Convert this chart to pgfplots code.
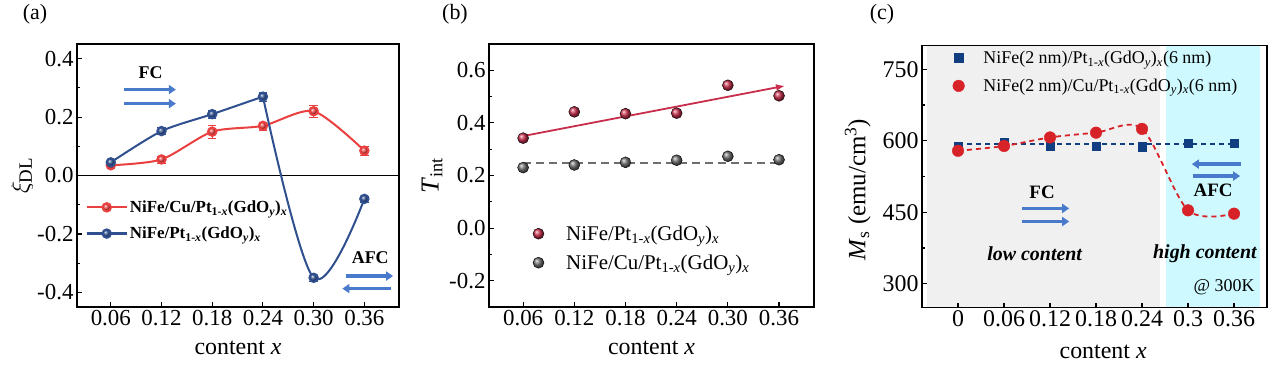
\documentclass[border=0pt]{standalone}
\usepackage{fontspec}
\setmainfont{Liberation Serif}
\usepackage{pgfplots}
\pgfplotsset{compat=1.18}
\usetikzlibrary{arrows.meta}

\definecolor{ared}{RGB}{235,64,64}
\definecolor{ablue}{RGB}{47,79,143}
\definecolor{bred}{RGB}{200,45,75}
\definecolor{bgray}{RGB}{110,110,110}
\definecolor{cnavy}{RGB}{16,62,128}
\definecolor{cred}{RGB}{215,35,40}
\definecolor{arrblue}{RGB}{74,122,204}
\definecolor{bggray}{RGB}{240,240,240}
\definecolor{bgcyan}{RGB}{206,250,255}

\newcommand{\fs}[1]{\fontsize{#1}{#1}\selectfont}
\newcommand{\sub}[1]{\textsubscript{#1}}

\tikzset{barrow/.style={line width=3.6bp, draw=arrblue, -{Triangle[length=7bp,width=9bp]}}}

\pgfplotsset{
  base/.style={
    scale only axis,
    axis line style={line width=1.8bp},
    tick style={line width=1.1bp, black},
    tick align=inside, tick pos=left,
    major tick length=5bp, minor tick length=3bp,
    minor y tick num=1,
    tick label style={font=\fs{23}},
    label style={font=\fs{24}},
    legend cell align=left,
  },
}

\begin{document}
\begin{tikzpicture}
\useasboundingbox (0,0) rectangle (1282bp,-381bp);
\node[font=\fs{22}] at (35bp,-14bp) {(a)};
\node[font=\fs{22}] at (455bp,-14bp) {(b)};
\node[font=\fs{22}] at (882bp,-14bp) {(c)};

% ---------------- (a)
\begin{axis}[base, at={(77bp,-307bp)}, anchor=south west,
  width=322bp, height=263bp,
  xmin=0.02, xmax=0.401, ymin=-0.45, ymax=0.45,
  xtick={0.06,0.12,0.18,0.24,0.30,0.36},
  xticklabels={0.06,0.12,0.18,0.24,0.30,0.36},
  ytick={-0.4,-0.2,0,0.2,0.4},
  yticklabels={-0.4,-0.2,0.0,0.2,0.4},
  xlabel={content \textit{x}}, ylabel={\fs{27}$\xi_{\mathrm{DL}}$},
  xlabel style={at={(rel axis cs:0.5,-0.156)}, anchor=center},
  ylabel style={at={(rel axis cs:-0.171,0.5)}, anchor=center},
  legend style={at={(rel axis cs:0.02,0.42)}, anchor=north west, draw=none, fill=none,
    font=\fs{17}\bfseries, row sep=9bp, inner sep=2bp},
]
\addplot[black, line width=1.3bp, forget plot] coordinates {(0.02,0) (0.401,0)};
\addplot[ared, line width=2bp, smooth, tension=0.45, mark=ball, mark size=4.2bp, mark options={ball color=ared},
  legend image code/.code={\draw[draw=ared, line width=2.2bp] (0bp,0bp) -- (40bp,0bp);
     \draw[mark=ball, mark size=4.2bp, mark options={ball color=ared}] plot coordinates {(20bp,0bp)};},
  error bars/.cd, y dir=both, y explicit, error bar style={line width=1.2bp}]
  coordinates {(0.06,0.035) +- (0,0.010) (0.12,0.055) +- (0,0.012) (0.18,0.150) +- (0,0.022)
               (0.24,0.170) +- (0,0.014) (0.30,0.220) +- (0,0.020) (0.36,0.085) +- (0,0.014)};
\addlegendentry{NiFe/Cu/Pt\sub{1-\textit{x}}(GdO\sub{\textit{y}})\sub{\textit{x}}}
\addplot[ablue, line width=2bp, smooth, tension=0.45, forget plot]
  coordinates {(0.06,0.045) (0.12,0.152) (0.18,0.210) (0.24,0.270)};
\addplot[ablue, line width=2bp, smooth, tension=0.55, forget plot]
  coordinates {(0.24,0.270) (0.30,-0.350) (0.36,-0.080)};
\addplot[ablue, line width=2bp, only marks, mark=ball, mark size=4.2bp, mark options={ball color=ablue},
  legend image code/.code={\draw[draw=ablue, line width=2.2bp] (0bp,0bp) -- (40bp,0bp);
     \draw[mark=ball, mark size=4.2bp, mark options={ball color=ablue}] plot coordinates {(20bp,0bp)};},
  error bars/.cd, y dir=both, y explicit, error bar style={line width=1.2bp}]
  coordinates {(0.06,0.045) +- (0,0.012) (0.12,0.152) +- (0,0.012) (0.18,0.210) +- (0,0.014)
               (0.24,0.270) +- (0,0.016) (0.30,-0.350) +- (0,0.010) (0.36,-0.080) +- (0,0.010)};
\addlegendentry{NiFe/Pt\sub{1-\textit{x}}(GdO\sub{\textit{y}})\sub{\textit{x}}}
\node[font=\fs{18}\bfseries] at (axis cs:0.107,0.352) {FC};
\draw[barrow] (axis cs:0.0754,0.294) -- (axis cs:0.137,0.294);
\draw[barrow] (axis cs:0.0754,0.246) -- (axis cs:0.137,0.246);
\node[font=\fs{18}\bfseries] at (axis cs:0.367,-0.280) {AFC};
\draw[barrow] (axis cs:0.338,-0.344) -- (axis cs:0.394,-0.344);
\draw[barrow] (axis cs:0.391,-0.387) -- (axis cs:0.334,-0.387);
\end{axis}

% ---------------- (b)
\begin{axis}[base, at={(489bp,-307bp)}, anchor=south west,
  width=325bp, height=263bp,
  xmin=0.02, xmax=0.401, ymin=-0.3, ymax=0.7,
  xtick={0.06,0.12,0.18,0.24,0.30,0.36},
  xticklabels={0.06,0.12,0.18,0.24,0.30,0.36},
  ytick={-0.2,0,0.2,0.4,0.6},
  yticklabels={-0.2,0.0,0.2,0.4,0.6},
  xlabel={content \textit{x}}, ylabel={\fs{26}\textit{T}\sub{int}},
  xlabel style={at={(rel axis cs:0.5,-0.156)}, anchor=center},
  ylabel style={at={(rel axis cs:-0.175,0.5)}, anchor=center},
  legend style={at={(rel axis cs:0.128,0.325)}, anchor=north west, draw=none, fill=none,
    font=\fs{21}, row sep=9bp, inner sep=2bp,
    /tikz/every odd column/.append style={column sep=20bp}},
  legend image code/.code={\draw[#1] plot coordinates {(0bp,0bp)};},
]
\addplot[bred, line width=1.8bp, -{Latex[length=9bp,width=7bp]}, forget plot] coordinates {(0.06,0.350) (0.367,0.541)};
\addplot[bgray, line width=1.8bp, dash pattern=on 8bp off 5bp, forget plot] coordinates {(0.06,0.249) (0.36,0.249)};
\addplot[only marks, mark=ball, mark size=5.5bp, mark options={ball color=bred}]
  coordinates {(0.06,0.342) (0.12,0.442) (0.18,0.435) (0.24,0.437) (0.30,0.543) (0.36,0.503)};
\addlegendentry{NiFe/Pt\sub{1-\textit{x}}(GdO\sub{\textit{y}})\sub{\textit{x}}}
\addplot[only marks, mark=ball, mark size=5.5bp, mark options={ball color=bgray}]
  coordinates {(0.06,0.230) (0.12,0.240) (0.18,0.250) (0.24,0.258) (0.30,0.273) (0.36,0.260)};
\addlegendentry{NiFe/Cu/Pt\sub{1-\textit{x}}(GdO\sub{\textit{y}})\sub{\textit{x}}}
\end{axis}

% ---------------- (c)
\begin{axis}[base, at={(922bp,-307.5bp)}, anchor=south west,
  width=345bp, height=262bp, axis on top,
  xmin=-0.047, xmax=0.403, ymin=250, ymax=800,
  xtick={0,0.06,0.12,0.18,0.24,0.30,0.36},
  xticklabels={0,0.06,0.12,0.18,0.24,0.3,0.36},
  ytick={300,450,600,750},
  yticklabels={300,450,600,750},
  tick label style={font=\fs{24}},
  xlabel={content \textit{x}}, ylabel={\fs{25}\textit{M}\sub{s} (emu/cm\textsuperscript{3})},
  xlabel style={at={(rel axis cs:0.525,-0.17)}, anchor=center},
  ylabel style={at={(rel axis cs:-0.186,0.45)}, anchor=center},
  legend style={at={(rel axis cs:0.083,0.995)}, anchor=north west, draw=none, fill=none,
    font=\fs{18}, row sep=10bp, inner sep=2bp,
    /tikz/every odd column/.append style={column sep=17bp}},
  legend image code/.code={\draw[#1] plot coordinates {(0bp,0bp)};},
]
\fill[bggray] (axis cs:-0.0404,250) rectangle (axis cs:0.2635,800);
\fill[bgcyan] (axis cs:0.271,250) rectangle (axis cs:0.394,800);
\addplot[cnavy, line width=1.8bp, dash pattern=on 5bp off 4bp, forget plot] coordinates {(0,593) (0.36,593)};
\addplot[cred, line width=1.8bp, dash pattern=on 5bp off 4bp, smooth, forget plot]
  coordinates {(0,579) (0.06,589) (0.12,607) (0.18,617) (0.24,625) (0.30,454) (0.36,447)};
\addplot[only marks, mark=square*, mark size=4.3bp, cnavy]
  coordinates {(0,589) (0.06,597) (0.12,589) (0.18,589) (0.24,588) (0.30,595) (0.36,595)};
\addlegendentry{NiFe(2 nm)/Pt\sub{1-\textit{x}}(GdO\sub{\textit{y}})\sub{\textit{x}}(6 nm)}
\addplot[only marks, mark=*, mark size=5.8bp, cred]
  coordinates {(0,579) (0.06,589) (0.12,607) (0.18,617) (0.24,625) (0.30,454) (0.36,447)};
\addlegendentry{NiFe(2 nm)/Cu/Pt\sub{1-\textit{x}}(GdO\sub{\textit{y}})\sub{\textit{x}}(6 nm)}
\node[font=\fs{19}\bfseries] at (axis cs:0.1096,492) {FC};
\draw[barrow] (axis cs:0.0835,458) -- (axis cs:0.145,458);
\draw[barrow] (axis cs:0.0835,430.5) -- (axis cs:0.145,430.5);
\node[font=\fs{20}\bfseries\itshape] at (axis cs:0.100,363) {low content};
\node[font=\fs{20}\bfseries\itshape] at (axis cs:0.322,363) {high content};
\node[font=\fs{19}\bfseries] at (axis cs:0.3326,496) {AFC};
\draw[barrow] (axis cs:0.369,551) -- (axis cs:0.305,551);
\draw[barrow] (axis cs:0.3065,526) -- (axis cs:0.368,526);
\node[font=\fs{18}] at (axis cs:0.347,293) {@ 300K};
\end{axis}
\end{tikzpicture}
\end{document}
